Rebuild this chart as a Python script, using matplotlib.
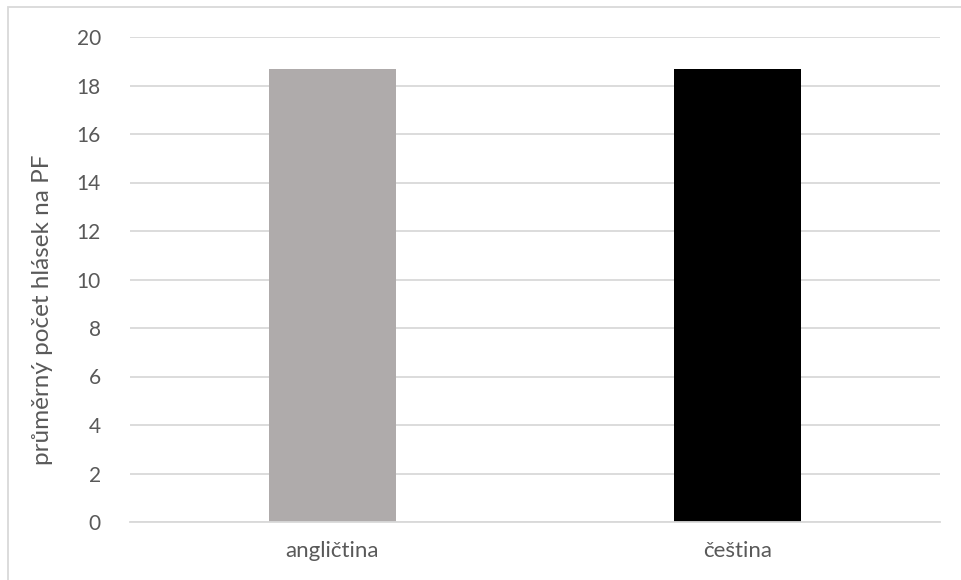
import matplotlib
matplotlib.use("Agg")
import matplotlib.pyplot as plt
from matplotlib.patches import Rectangle

categories = ["angličtina", "čeština"]
values = [18.7, 18.7]
bar_colors = ["#afabab", "#000000"]
y_ticks = [0, 2, 4, 6, 8, 10, 12, 14, 16, 18, 20]
y_label = "průměrný počet hlásek na PF"

plt.rcParams["font.family"] = ["Lato", "DejaVu Sans"]
text_color = "#595959"

fig = plt.figure(figsize=(9.61, 5.80), dpi=100)
ax = fig.add_axes([130 / 961, 1 - 522 / 580, 810 / 961, 485 / 580])

x = list(range(len(categories)))
ax.bar(x, values, width=0.316, color=bar_colors, zorder=3)

ax.set_xlim(-0.5, len(categories) - 0.5)
ax.set_ylim(0, 20)
ax.set_yticks(y_ticks)
ax.set_xticks(x)
ax.set_xticklabels(categories)

ax.grid(axis="y", color="#d9d9d9", linewidth=1.3, zorder=0)
for side in ("top", "right", "left"):
    ax.spines[side].set_visible(False)
ax.spines["bottom"].set_color("#d9d9d9")
ax.spines["bottom"].set_linewidth(1.3)
ax.spines["bottom"].set_zorder(4)

ax.tick_params(axis="both", length=0, labelcolor=text_color)
ax.tick_params(axis="y", pad=21, labelsize=15)
ax.tick_params(axis="x", pad=14, labelsize=16)

# axis title, placed over the whole chart area
fig.text(43 / 961, 1 - 310 / 580, y_label, rotation=90, ha="center",
         va="center", fontsize=17.5, color=text_color)

# outer chart frame (left and top edges visible)
fig.patches.append(Rectangle((8 / 961, -0.1), 1.2, 1 - 7 / 580 + 0.1,
                             transform=fig.transFigure, fill=False,
                             edgecolor="#d9d9d9", linewidth=1.3))

fig.savefig("out.png", dpi=100)
